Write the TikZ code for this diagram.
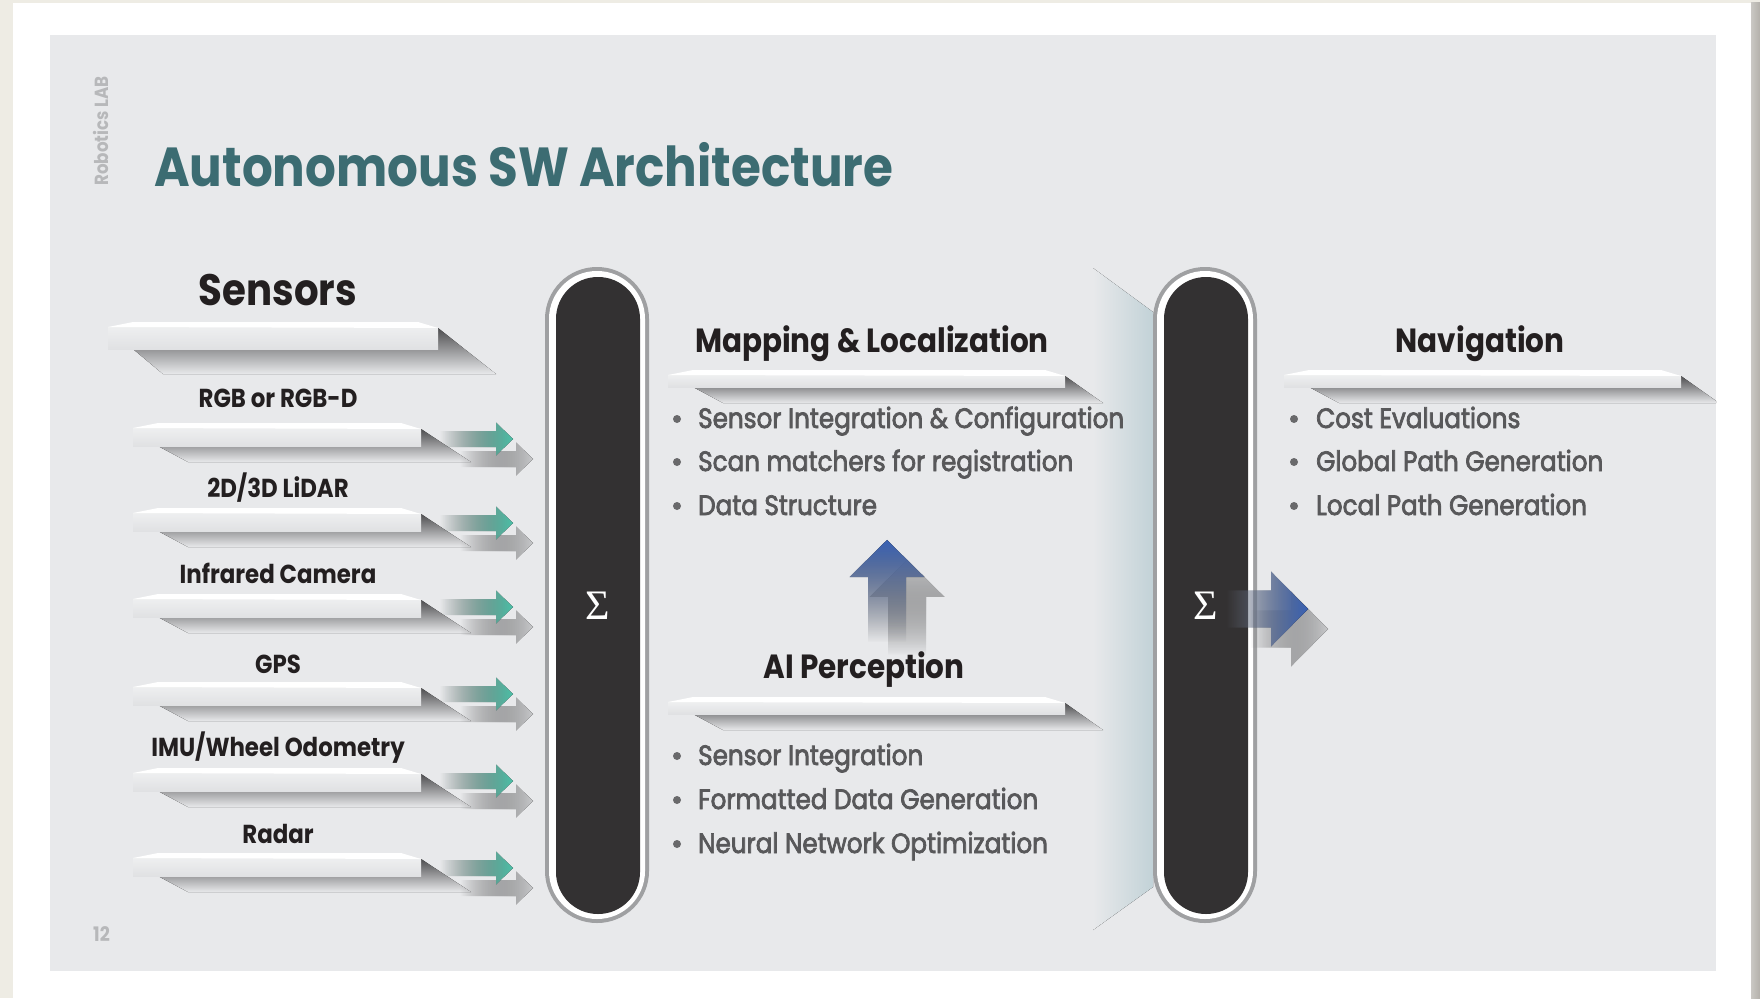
\documentclass[tikz,border=0pt]{standalone}
\usepackage{fontspec}
\setmainfont{Poppins}[FakeStretch=0.88]
\newfontfamily\itemfont{Poppins}[FakeStretch=0.88, FakeBold=2.6]
\newfontfamily\sigmafont{Liberation Serif}
\usetikzlibrary{fadings}

\definecolor{outerbg}{HTML}{EEECE4}
\definecolor{rimshade}{HTML}{B3B0AA}
\definecolor{panel}{HTML}{E8E9EB}
\definecolor{titleteal}{HTML}{3C6C72}
\definecolor{ink}{HTML}{231F20}
\definecolor{bodygrey}{HTML}{58585A}
\definecolor{faint}{HTML}{B7B8BA}
\definecolor{shelftop}{HTML}{EEEFF0}
\definecolor{shelfbot}{HTML}{E0E1E3}
\definecolor{shelfshade}{HTML}{4E4E50}
\definecolor{tealarrow}{HTML}{4CC2A9}
\definecolor{bluearrow}{HTML}{3A62B5}
\definecolor{ghost}{HTML}{C9CACC}
\definecolor{pilldark}{HTML}{333132}
\definecolor{pillrim}{HTML}{9FA0A2}
\definecolor{tint}{HTML}{C2D2D7}

\tikzset{
  slidetitle/.style={font=\fontsize{55}{60}\selectfont\bfseries, text=titleteal, inner sep=0, anchor=base west},
  sensorhead/.style={font=\fontsize{44}{50}\selectfont\bfseries, text=ink, inner sep=0, anchor=base},
  colhead/.style={font=\fontsize{33.5}{40}\selectfont\bfseries, text=ink, inner sep=0, anchor=base},
  sensorlabel/.style={font=\fontsize{26}{30}\selectfont\bfseries, text=ink, inner sep=0, anchor=base},
  item/.style={font=\fontsize{28}{32}\selectfont\itemfont, text=bodygrey, inner sep=0, anchor=base west},
  dot/.style={circle, fill=bodygrey!90, inner sep=0, minimum size=8},
  marginal/.style={font=\fontsize{19}{21}\selectfont\bfseries, text=faint, inner sep=0},
  sumsign/.style={font=\fontsize{42}{42}\selectfont\sigmafont, text=white, inner sep=0},
  tealfill/.style={left color=tealarrow!15!panel, right color=tealarrow, path fading=west},
  ghostfill/.style={left color=panel, right color=ghost, path fading=west},
  bluefill/.style={left color=bluearrow!25!white, right color=bluearrow, path fading=west},
}

% shelf: #1 left, #2 right, #3 top, #4 bar height, #5 wedge run, #6 wedge drop
\newcommand\shelf[6]{%
  \fill[top color=shelfshade, bottom color=panel]
    (#1+25,#3+#4) -- (#2,#3+#4) -- (#2,#3+6) -- (#2+#5,#3+6+#6) -- (#1+55,#3+6+#6) -- cycle;
  \fill[top color=shelftop, bottom color=shelfbot] (#1,#3+5) rectangle (#2,#3+#4);
  \fill[white] (#1,#3+5) -- (#1+25,#3) -- (#2-20,#3) -- (#2,#3+6) -- cycle;}

% arrow pointing right: #1 tail x, #2 head base x, #3 tip x, #4 centre y,
% #5 shaft half height, #6 head half height, #7 fill options
\newcommand\harrow[7]{%
  \fill[#7] (#1,#4-#5) -- (#2,#4-#5) -- (#2,#4-#6) -- (#3,#4) -- (#2,#4+#6)
    -- (#2,#4+#5) -- (#1,#4+#5) -- cycle;}

% arrow pointing up: #1 centre x, #2 tail y, #3 head base y, #4 tip y,
% #5 shaft half width, #6 head half width, #7 fill options
\newcommand\varrow[7]{%
  \fill[#7] (#1-#5,#2) -- (#1-#5,#3) -- (#1-#6,#3) -- (#1,#4) -- (#1+#6,#3)
    -- (#1+#5,#3) -- (#1+#5,#2) -- cycle;}

\begin{document}
\begin{tikzpicture}[x=1pt, y=-1pt]
\useasboundingbox (0,0) rectangle (1760,998);

% page and slide panel
\fill[outerbg] (0,0) rectangle (1760,998);
\fill[white] (13,3) rectangle (1751,998);
\fill[left color=rimshade!70!white, right color=rimshade] (1751,3) rectangle (1760,998);
\fill[panel] (50,35) rectangle (1716,971);

\begin{scope}
\clip (50,35) rectangle (1716,971);

% tinted backdrop beside the second merge bar
\fill[left color=panel, right color=tint] (1093,268) -- (1153,312) -- (1153,887) -- (1093,930) -- cycle;

% shelves
\shelf{108}{438}{322}{27}{58}{46}
\shelf{133}{421}{423}{23}{50}{33}
\shelf{133}{421}{508}{23}{50}{33}
\shelf{133}{421}{594}{23}{50}{33}
\shelf{133}{421}{682}{23}{50}{33}
\shelf{133}{421}{768}{23}{50}{33}
\shelf{133}{421}{853}{23}{50}{33}
\shelf{668}{1065}{370}{17}{38}{27}
\shelf{668}{1065}{697}{17}{38}{27}
\shelf{1284}{1681}{370}{17}{38}{27}

% sensor arrows: soft grey echo, then teal
\harrow{460}{516}{533}{459}{8}{16.5}{ghostfill}
\harrow{460}{516}{533}{543}{8}{16.5}{ghostfill}
\harrow{460}{516}{533}{627}{8}{16.5}{ghostfill}
\harrow{460}{516}{533}{714}{8}{16.5}{ghostfill}
\harrow{460}{516}{533}{801}{8}{16.5}{ghostfill}
\harrow{460}{516}{533}{888}{8}{16.5}{ghostfill}
\harrow{440}{496}{513}{439}{8}{16.5}{tealfill}
\harrow{440}{496}{513}{523}{8}{16.5}{tealfill}
\harrow{440}{496}{513}{607}{8}{16.5}{tealfill}
\harrow{440}{496}{513}{694}{8}{16.5}{tealfill}
\harrow{440}{496}{513}{781}{8}{16.5}{tealfill}
\harrow{440}{496}{513}{868}{8}{16.5}{tealfill}

% perception feeds mapping
\varrow{907}{655}{597}{560}{19}{37.5}{top color=ghost, bottom color=panel, path fading=south}
\varrow{887}{642}{577}{540}{19}{37.5}{top color=bluearrow, bottom color=bluearrow!15!panel, path fading=south}

% merge bars
\fill[pillrim, rounded corners=51.9] (545,267) rectangle (649,923);
\fill[white, rounded corners=47.9] (549,271) rectangle (645,919);
\fill[pilldark, rounded corners=41.9] (556,277) rectangle (640,914);
\fill[pillrim, rounded corners=51.9] (1153,267) rectangle (1257,923);
\fill[white, rounded corners=47.9] (1157,271) rectangle (1253,919);
\fill[pilldark, rounded corners=41.9] (1164,277) rectangle (1248,914);
\node[sumsign] (sum1) at (598,606) {Σ};
\node[sumsign] (sum2) at (1206,606) {Σ};

% output to navigation
\harrow{1250}{1291}{1328}{629}{18.5}{37.5}{ghostfill}
\harrow{1226}{1271}{1308}{609}{18.5}{37.5}{bluefill}
\end{scope}

% texts
\node[marginal, rotate=90] (lab) at (101,131) {Robotics LAB};
\node[marginal, anchor=base west, font=\fontsize{20}{22}\selectfont\bfseries] (page) at (93,941) {12};
\node[slidetitle] (title) at (154,186) {Autonomous SW Architecture};

\node[sensorhead] (sensors) at (278,305) {Sensors};
\node[sensorlabel] (rgb) at (278,407) {RGB or RGB-D};
\node[sensorlabel] (lidar) at (278,497) {2D/3D LiDAR};
\node[sensorlabel] (ir) at (278,583) {Infrared Camera};
\node[sensorlabel] (gps) at (278,673) {GPS};
\node[sensorlabel] (imu) at (278,756) {IMU/Wheel Odometry};
\node[sensorlabel] (radar) at (278,843) {Radar};

\node[colhead] (mapping) at (872,352) {Mapping \& Localization};
\node[dot] at (677,419) {};
\node[item] (m1) at (698,428) {Sensor Integration \& Configuration};
\node[dot] at (677,462) {};
\node[item] (m2) at (698,471) {Scan matchers for registration};
\node[dot] at (677,506) {};
\node[item] (m3) at (698,515) {Data Structure};

\node[colhead] (percep) at (864,678) {AI Perception};
\node[dot] at (677,756) {};
\node[item] (p1) at (698,765) {Sensor Integration};
\node[dot] at (677,800) {};
\node[item] (p2) at (698,809) {Formatted Data Generation};
\node[dot] at (677,844) {};
\node[item] (p3) at (698,853) {Neural Network Optimization};

\node[colhead] (nav) at (1480,352) {Navigation};
\node[dot] at (1294,419) {};
\node[item] (n1) at (1316,428) {Cost Evaluations};
\node[dot] at (1294,462) {};
\node[item] (n2) at (1316,471) {Global Path Generation};
\node[dot] at (1294,506) {};
\node[item] (n3) at (1316,515) {Local Path Generation};
\end{tikzpicture}
\end{document}
